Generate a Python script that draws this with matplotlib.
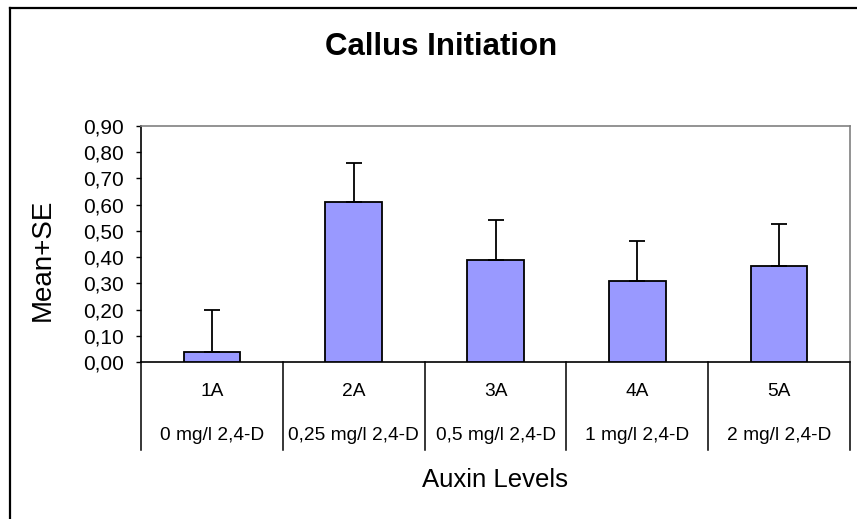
import matplotlib
matplotlib.use("Agg")
import matplotlib.pyplot as plt
from matplotlib.lines import Line2D
from matplotlib.ticker import FuncFormatter, MultipleLocator
import matplotlib.transforms as mtransforms

# data
codes = ["1A", "2A", "3A", "4A", "5A"]
doses = ["0 mg/l 2,4-D", "0,25 mg/l 2,4-D", "0,5 mg/l 2,4-D", "1 mg/l 2,4-D", "2 mg/l 2,4-D"]
means = [0.04, 0.61, 0.39, 0.31, 0.365]
se = [0.16, 0.15, 0.15, 0.15, 0.16]

plt.rcParams["font.family"] = ["Liberation Sans", "DejaVu Sans"]

W, H = 857, 519
fig = plt.figure(figsize=(W / 100, H / 100), dpi=100)
fig.patch.set_facecolor("white")

# plot area in pixels: x 141..850, y 126..362
left, right, top, bottom = 141, 850, 126, 362
ax = fig.add_axes([left / W, 1 - bottom / H, (right - left) / W, (bottom - top) / H])

x = list(range(len(codes)))
ax.bar(x, means, width=0.4, color="#9999FF", edgecolor="black", linewidth=1.3, zorder=3)
ax.errorbar(x, means, yerr=[[0] * len(se), se], fmt="none", ecolor="black",
            elinewidth=1.3, capsize=5.5, capthick=1.3, zorder=4)

ax.set_xlim(-0.5, len(codes) - 0.5)
ax.set_ylim(0, 0.9)
ax.yaxis.set_major_locator(MultipleLocator(0.1))
ax.yaxis.set_major_formatter(FuncFormatter(lambda v, p: f"{v:.2f}".replace(".", ",")))
ax.set_xticks([])
ax.tick_params(axis="y", length=3.5, width=1, pad=9, labelsize=15, color="black")

for s in ["top", "right"]:
    ax.spines[s].set_color("#808080")
    ax.spines[s].set_linewidth(1.2)
for s in ["left", "bottom"]:
    ax.spines[s].set_color("black")
    ax.spines[s].set_linewidth(1.2)

# category table below the axis
trans = mtransforms.blended_transform_factory(ax.transData, ax.transAxes)
h = bottom - top
tbl_bottom = -(450 - bottom) / h
row1 = -(392 - bottom) / h
row2 = -(435.5 - bottom) / h
for b in [i - 0.5 for i in range(len(codes) + 1)]:
    ax.add_line(Line2D([b, b], [0, tbl_bottom], transform=trans, color="black",
                       linewidth=1.1, clip_on=False))
for i in x:
    ax.text(i, row1, codes[i], transform=trans, ha="center", va="center", fontsize=13.8)
    ax.text(i, row2, doses[i], transform=trans, ha="center", va="center", fontsize=13.8)

# titles
fig.text(441 / W, 1 - 47 / H, "Callus Initiation", ha="center", va="center",
         fontsize=22.5, fontweight="bold")
fig.text(495 / W, 1 - 487 / H, "Auxin Levels", ha="center", va="baseline", fontsize=18.5)
fig.text(43 / W, 1 - 260 / H, "Mean+SE", ha="center", va="center", rotation=90, fontsize=20)

# outer chart border (only left and top inside the picture)
fig.add_artist(Line2D([10 / W, 10 / W], [0, 1 - 8 / H], transform=fig.transFigure,
                      color="black", linewidth=1.6))
fig.add_artist(Line2D([10 / W, 1], [1 - 8 / H, 1 - 8 / H], transform=fig.transFigure,
                      color="black", linewidth=1.6))

fig.savefig("out.png", dpi=100)
